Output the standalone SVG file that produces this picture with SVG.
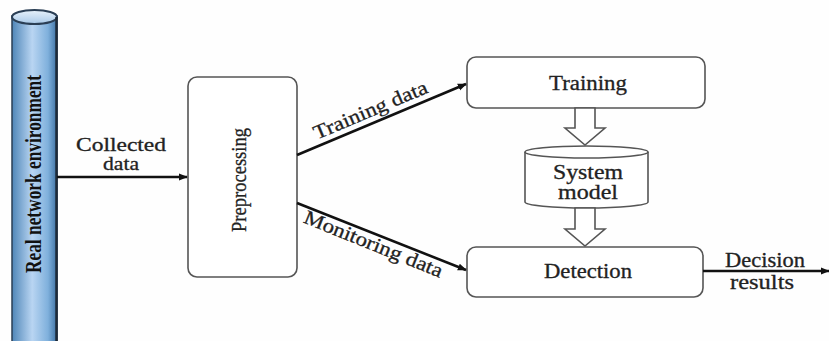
<svg xmlns="http://www.w3.org/2000/svg" width="829" height="341" viewBox="0 0 829 341">
  <defs>
    <linearGradient id="pipeFill" x1="0" y1="0" x2="1" y2="0">
      <stop offset="0" stop-color="#4f86b8"/>
      <stop offset="0.45" stop-color="#b9d5f2"/>
      <stop offset="0.8" stop-color="#7fb0dc"/>
      <stop offset="1" stop-color="#3e72a4"/>
    </linearGradient>
    <linearGradient id="capFill" x1="0" y1="0" x2="0" y2="1">
      <stop offset="0" stop-color="#e8f2fb"/>
      <stop offset="1" stop-color="#a9c9e8"/>
    </linearGradient>
    <marker id="headBig" viewBox="0 0 10 10" refX="9" refY="5" markerWidth="9" markerHeight="9" markerUnits="userSpaceOnUse" orient="auto">
      <path d="M0,1 L10,5 L0,9 z" fill="#111"/>
    </marker>
  </defs>
  <style>
    .lbl { font-family: "Liberation Serif", "Times New Roman", serif; font-size: 20px; fill: #222; stroke: #222; stroke-width: 0.3; }
    .small { font-size: 18px; }
    .side { font-size: 22px; }
    .env { font-size: 23px; font-weight: bold; fill: #111; stroke: none; }
    .box { fill: #ffffff; stroke: #555; stroke-width: 1.6; }
    .wire { stroke: #111; stroke-width: 2.6; fill: none; }
    .hollow { fill: #ffffff; stroke: #555; stroke-width: 1.6; stroke-linejoin: miter; }
  </style>

  <rect width="829" height="341" fill="#fefefe"/>

  <!-- network environment pipe -->
  <g id="environment">
    <rect x="12" y="16" width="45" height="330" fill="url(#pipeFill)" stroke="#2b3f55" stroke-width="1.5"/>
    <ellipse cx="34.5" cy="17" rx="22.5" ry="7" fill="url(#capFill)" stroke="#2b3f55" stroke-width="2"/>
    <line x1="56.5" y1="17" x2="56.5" y2="341" stroke="#1d2a38" stroke-width="2.5"/>
    <text class="lbl env" transform="translate(41,174) rotate(-90)" text-anchor="middle" textLength="198" lengthAdjust="spacingAndGlyphs">Real network environment</text>
  </g>

  <g id="preprocessing">
    <rect class="box" x="188" y="77" width="109" height="200" rx="9"/>
    <text class="lbl side" transform="translate(246,180) rotate(-90)" text-anchor="middle" textLength="104" lengthAdjust="spacingAndGlyphs">Preprocessing</text>
  </g>

  <g id="training">
    <rect class="box" x="467" y="57" width="238" height="51" rx="9"/>
    <text class="lbl" x="588" y="90" text-anchor="middle" textLength="78" lengthAdjust="spacingAndGlyphs">Training</text>
  </g>

  <g id="system-model">
    <path class="box" d="M525,152 L525,202 A61.5,6 0 0 0 648,202 L648,152"/>
    <ellipse class="box" cx="586.5" cy="152" rx="61.5" ry="6"/>
    <text class="lbl" x="588" y="179" text-anchor="middle" textLength="70" lengthAdjust="spacingAndGlyphs">System</text>
    <text class="lbl" x="588" y="199" text-anchor="middle" textLength="60" lengthAdjust="spacingAndGlyphs">model</text>
  </g>

  <g id="detection">
    <rect class="box" x="467" y="247" width="236" height="50" rx="9"/>
    <text class="lbl" x="588" y="278" text-anchor="middle" textLength="88" lengthAdjust="spacingAndGlyphs">Detection</text>
  </g>

  <g id="connectors">
    <line class="wire" x1="57" y1="177" x2="187" y2="177" marker-end="url(#headBig)"/>
    <text class="lbl small" x="121" y="151" text-anchor="middle" textLength="90" lengthAdjust="spacingAndGlyphs">Collected</text>
    <text class="lbl small" x="121" y="170" text-anchor="middle" textLength="36" lengthAdjust="spacingAndGlyphs">data</text>

    <line class="wire" x1="297" y1="155" x2="466" y2="84" marker-end="url(#headBig)"/>
    <text class="lbl" transform="translate(373,116) rotate(-23)" text-anchor="middle" textLength="122" lengthAdjust="spacingAndGlyphs">Training data</text>

    <line class="wire" x1="297" y1="203" x2="466" y2="270" marker-end="url(#headBig)"/>
    <text class="lbl" transform="translate(371,250) rotate(22)" text-anchor="middle" textLength="148" lengthAdjust="spacingAndGlyphs">Monitoring data</text>

    <path class="hollow" d="M575,108 L595,108 L595,128 L605,128 L585,145 L565,128 L575,128 Z"/>
    <path class="hollow" d="M575,208 L595,208 L595,229 L605,229 L585,246 L565,229 L575,229 Z"/>

    <line class="wire" x1="703" y1="271" x2="829" y2="271" marker-end="url(#headBig)"/>
    <text class="lbl" x="765" y="267" text-anchor="middle" textLength="80" lengthAdjust="spacingAndGlyphs">Decision</text>
    <text class="lbl" x="762" y="289" text-anchor="middle" textLength="64" lengthAdjust="spacingAndGlyphs">results</text>
  </g>
</svg>
